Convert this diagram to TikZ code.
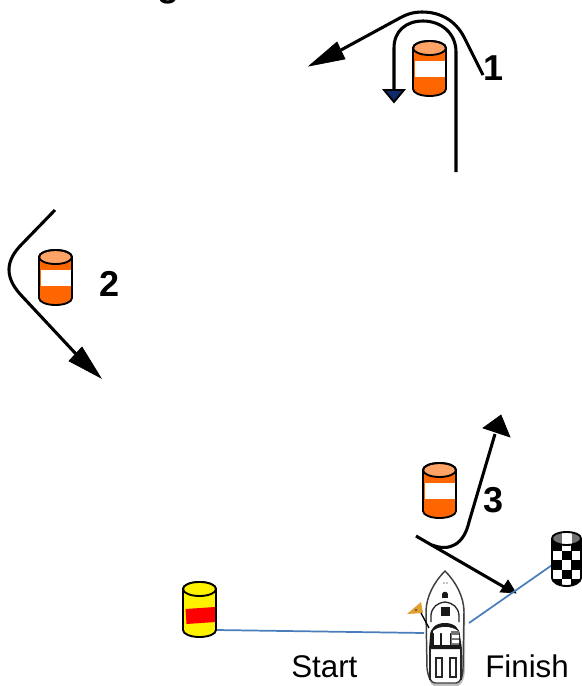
\documentclass[tikz,border=0pt]{standalone}
\usepackage{fontspec}
\setmainfont{Liberation Sans}
\definecolor{barrel}{HTML}{FF6600}
\definecolor{barreltop}{HTML}{FFA366}
\definecolor{linkblue}{HTML}{4A7EBB}
\definecolor{headnavy}{HTML}{0F2A6B}
\definecolor{flagor}{HTML}{E0A030}
\tikzset{
  course/.style={draw=black,line width=2.3pt,line join=round},
  head/.style={fill=black,draw=black,line width=.5pt,line join=miter},
  link/.style={draw=linkblue,line width=1.3pt},
  digit/.style={font=\fontsize{27}{27}\selectfont\bfseries,inner sep=0pt,anchor=base west},
  label/.style={font=\fontsize{23.5}{24}\selectfont,inner sep=0pt,anchor=base west},
  can/.style={draw=black,line width=1.4pt},
  hull/.style={draw=black!75,line width=1.1pt,fill=white,line join=round},
  ink/.style={fill=black!90,draw=none},
  thinink/.style={draw=black!85,line width=.8pt,fill=none},
}
\newcommand{\canshell}{(-16.5,7) -- (-16.5,48) .. controls (-16.5,52) and (-9,55) .. (0,55) .. controls (9,55) and (16.5,52) .. (16.5,48) -- (16.5,7) .. controls (16.5,3) and (9,0) .. (0,0) .. controls (-9,0) and (-16.5,3) .. (-16.5,7) -- cycle}
\newcommand{\cantop}{(-16.5,7) .. controls (-16.5,3) and (-9,0) .. (0,0) .. controls (9,0) and (16.5,3) .. (16.5,7) .. controls (16.5,11) and (9,14) .. (0,14) .. controls (-9,14) and (-16.5,11) .. (-16.5,7) -- cycle}
\newcommand{\orangecan}[3]{%
  \begin{scope}[shift={(#2,#3)}]
    \fill[barrel] \canshell;
    \fill[white] (-15,20) rectangle (16,36);
    \fill[barreltop] \cantop;
    \draw[can] \canshell;
    \draw[can] \cantop;
    \node[inner sep=0pt,minimum size=0pt] (#1) at (0,27) {};
  \end{scope}}
\begin{document}
\begin{tikzpicture}[x=0.75pt,y=-0.75pt]
\useasboundingbox (0,0) rectangle (582,686);
\node[digit] (clipped) at (157,-4) {g};

% barrels
\orangecan{markA}{429.5}{41}
\orangecan{markB}{55.5}{250}
\orangecan{markC}{439.5}{463}

% turn 1
\coordinate (a1) at (483,75);
\coordinate (a2) at (341,50);
\coordinate (a3) at (309,66);
\draw[course] (a1) -- (464,37) .. controls (455,20) and (440,12) .. (422,12) .. controls (412,12) and (405,15) .. (398,19) -- (a2);
\fill[head] (a3) -- (337,42) -- (345,59) -- cycle;
\coordinate (b1) at (456,172);
\coordinate (b2) at (394,90);
\draw[course] (b1) -- (456,52) .. controls (456,33) and (441,21) .. (423,21) .. controls (406,21) and (394,31) .. (394,48) -- (b2);
\fill[headnavy,draw=black,line width=1.4pt,line join=miter] (384,90) -- (404,90) -- (394,102) -- cycle;
\node[digit] (n1) at (483,80) {1};

% turn 2
\coordinate (c1) at (55,210);
\coordinate (c2) at (76,354);
\draw[course] (c1) -- (22,244) .. controls (5,261) and (5,277) .. (20,294) -- (c2);
\fill[head] (101,378) -- (69,361) -- (82,347) -- cycle;
\node[digit] (n2) at (99,296) {2};

% turn 3
\coordinate (d1) at (432,545);
\coordinate (d2) at (495,434);
\draw[course] (d1) .. controls (450,552) and (464,544) .. (469,522) -- (d2);
\fill[head] (501,415) -- (483,428) -- (510,437) -- cycle;
\coordinate (e1) at (416,536);
\coordinate (e2) at (504,587);
\draw[course] (e1) -- (e2);
\fill[head] (516,593) -- (500,592) -- (508,580) -- cycle;
\node[digit] (n3) at (483,512) {3};

% links
\coordinate (startL) at (216,630);
\coordinate (startR) at (424,633);
\coordinate (finL) at (469,623);
\coordinate (finR) at (555,563);
\draw[link] (startL) -- (startR);
\draw[link] (finL) -- (finR);

% yellow start barrel
\begin{scope}[shift={(199.5,582)}]
  \fill[yellow] \canshell;
  \fill[red] (-14,27) -- (15.5,25) -- (16,40) -- (-13,42) -- cycle;
  \draw[can] \canshell;
  \fill[yellow] \cantop;
  \draw[can] \cantop;
\end{scope}

% checkered finish barrel
\begin{scope}[shift={(566.5,532)}]
  \begin{scope}
    \clip (-14.5,6) -- (-14.5,46) .. controls (-14.5,50) and (-8,54) .. (0,54) .. controls (8,54) and (14.5,50) .. (14.5,46) -- (14.5,6) -- cycle;
    \fill[white] (-15,0) rectangle (15,55);
    \foreach \cx/\cy in {-14/9,4.5/9,-4.5/18.5,14/18.5,-14/28,4.5/28,-4.5/37.5,14/37.5,-14/47,4.5/47}
      \fill[black] (\cx,\cy) rectangle ++(9.5,9.5);
  \end{scope}
  \begin{scope}
    \clip (-14.5,6.5) .. controls (-14.5,2.5) and (-8,0) .. (0,0) .. controls (8,0) and (14.5,2.5) .. (14.5,6.5) .. controls (14.5,10) and (8,13) .. (0,13) .. controls (-8,13) and (-14.5,10) .. (-14.5,6.5) -- cycle;
    \fill[black!55] (-15,0) rectangle (15,13);
    \fill[white] (-4.5,0) rectangle (5,13);
  \end{scope}
  \draw[can] (-14.5,6.5) -- (-14.5,46) .. controls (-14.5,50) and (-8,54) .. (0,54) .. controls (8,54) and (14.5,50) .. (14.5,46) -- (14.5,6.5);
  \draw[can] (-14.5,6.5) .. controls (-14.5,2.5) and (-8,0) .. (0,0) .. controls (8,0) and (14.5,2.5) .. (14.5,6.5) .. controls (14.5,10) and (8,13) .. (0,13) .. controls (-8,13) and (-14.5,10) .. (-14.5,6.5) -- cycle;
\end{scope}

% boat
\fill[black!25] (445,573) .. controls (456,585) and (465,600) .. (465,615) -- (465,668) .. controls (465,678) and (462,685) .. (458,686) -- (434,686) .. controls (430,685) and (428,678) .. (428,668) -- (428,615) -- cycle;
\draw[hull] (445,571) .. controls (434,582) and (426,597) .. (426,612) -- (427,668) .. controls (428,677) and (431,683) .. (435,683) -- (456,683) .. controls (460,683) and (463,677) .. (463,668) -- (464,612) .. controls (464,597) and (456,582) .. (445,571) -- cycle;
\fill[black] (444,583) circle[radius=.6] (447,583) circle[radius=.6];
\fill[ink] (442,594) rectangle (448,598);
\fill[ink] (442,594) .. controls (443,591) and (447,591) .. (448,594) -- cycle;
% windscreen
\draw[thinink,line width=1pt] (431,622) -- (431,615) .. controls (432,607) and (437,603) .. (445,602) .. controls (453,603) and (458,607) .. (459,615) -- (459,622);
\fill[ink] (441,607) rectangle (450,616);
% cockpit
\fill[ink] (430,636) .. controls (430,628) and (436,623) .. (445,623) .. controls (454,623) and (460,628) .. (460,636) -- (462,649) -- (429,649) -- cycle;
\fill[white] (433,631) .. controls (437,628) and (440,627) .. (445,627) .. controls (450,627) and (454,628) .. (458,631) -- (458,633) -- (433,633) -- cycle;
\fill[white] (434,631) rectangle (440,645);
\fill[white] (442,631) rectangle (450,645);
\fill[black!55] (451,631) rectangle (459,645);
\fill[white] (452,635) rectangle (459,638) (452,640) rectangle (459,643);
\draw[thinink,line width=1pt,fill=white] (436,658) rectangle (442,677);
\draw[thinink,line width=1pt,fill=white] (450,658) rectangle (456,677);
\draw[black!85,line width=1.6pt] (430,648) -- (430,680) (461,648) -- (461,680);
% flag
\fill[flagor] (407,614) -- (421,602) -- (423,613) -- cycle;
\fill[black!70] (416,610) circle[radius=1.2];
\draw[black,line width=1pt] (421,613) -- (429,628);

% labels
\node[label] (startT) at (291,677) {Start};
\node[label] (finishT) at (485,677) {Finish};
\end{tikzpicture}
\end{document}
